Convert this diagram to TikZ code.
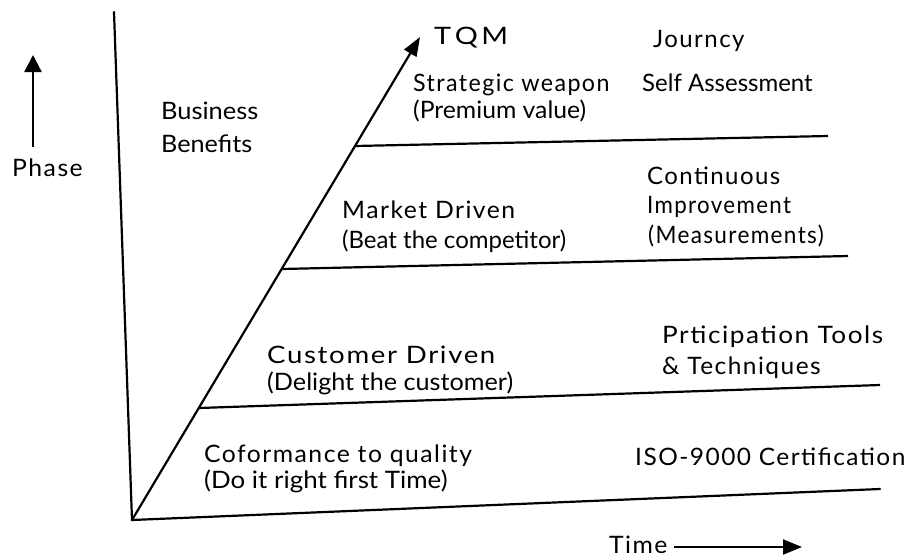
\documentclass[tikz,border=0pt]{standalone}
\usepackage{fontspec}
\usepackage{graphicx}
\setmainfont{Lato}
\newfontfamily\spc[LetterSpace=6]{Lato}
\newcommand\hsx[2]{\scalebox{#1}[1]{#2}}
\usetikzlibrary{arrows.meta}
\begin{document}
\begin{tikzpicture}[x=1pt,y=-1pt,
  lbl/.style={anchor=base west,inner sep=0pt,font=\fontsize{24}{26}\selectfont},
  slbl/.style={lbl,font=\fontsize{24}{26}\selectfont\spc},
  ln/.style={line width=2.2pt},
  arr/.style={line width=2.2pt,-{Triangle[length=19pt,width=14pt]}},
  parr/.style={line width=2.4pt,-{Triangle[length=17pt,width=17pt]}},
  sarr/.style={line width=2pt,-{Triangle[length=19pt,width=15pt]}}]
\useasboundingbox (0,0) rectangle (907,558);
\fill[white] (0,0) rectangle (907,558);
% axes
\coordinate (O) at (132,520);
\coordinate (Vtop) at (114,12);
\coordinate (Bend) at (880,489);
\coordinate (Dtip) at (420,37);
\coordinate (L1a) at (198.8,408);
\coordinate (L1b) at (880,385);
\coordinate (L2a) at (281.7,269);
\coordinate (L2b) at (848,256);
\coordinate (L3a) at (355,146);
\coordinate (L3b) at (828,136);
\coordinate (Pbot) at (33,147);
\coordinate (Ptop) at (33,55);
\draw[ln,line cap=round] (Vtop) -- (O) -- (Bend);
\draw[arr] (O) -- (Dtip);
\draw[ln] (L1a) -- (L1b);
\draw[ln] (L2a) -- (L2b);
\draw[ln] (L3a) -- (L3b);
\draw[parr] (Pbot) -- (Ptop);
% labels
\node[slbl] (phase) at (12,176) {\hsx{1.03}{Phase}};
\node[lbl] (bus) at (161,119) {\hsx{1.06}{Business}};
\node[lbl] (ben) at (161,152) {\hsx{1.05}{Benefits}};
\node[slbl] (tqm) at (434,44) {\hsx{1.2}{T\kern3pt Q\kern3pt M}};
\node[slbl] (jour) at (653,47) {Journcy};
\node[slbl] (strat) at (413,91) {\hsx{0.97}{Strategic weapon}};
\node[lbl] (prem) at (413,118) {\hsx{1.03}{(Premium value)}};
\node[lbl] (self) at (642,91) {Self Assessment};
\node[slbl] (mkt) at (342,218) {\hsx{1.03}{Market Driven}};
\node[lbl] (beat) at (342,248) {(Beat the competitor)};
\node[slbl] (cont) at (647,184) {Continuous};
\node[slbl] (impr) at (647,213) {\hsx{0.93}{Improvement}};
\node[slbl] (meas) at (648,243) {\hsx{0.94}{(Measurements)}};
\node[slbl] (cust) at (267,363) {\hsx{1.15}{Customer Driven}};
\node[lbl] (deli) at (267,390) {\hsx{1.05}{(Delight the customer)}};
\node[slbl] (prt) at (662,343) {\hsx{1.09}{Prticipation Tools}};
\node[slbl] (tech) at (662,374) {\hsx{1.02}{\& Techniques}};
\node[slbl] (conf) at (204,462) {\hsx{1.03}{Coformance to quality}};
\node[lbl] (doit) at (204,488) {\hsx{1.08}{(Do it right first Time)}};
\node[slbl] (iso) at (635,465) {\hsx{1.02}{ISO-9000 Certification}};
\node[slbl] (time) at (609,553) {\hsx{1.03}{Time}};
\coordinate (Ta) at (674,547);
\coordinate (Tb) at (802,547);
\draw[sarr] (Ta) -- (Tb);
\end{tikzpicture}
\end{document}
